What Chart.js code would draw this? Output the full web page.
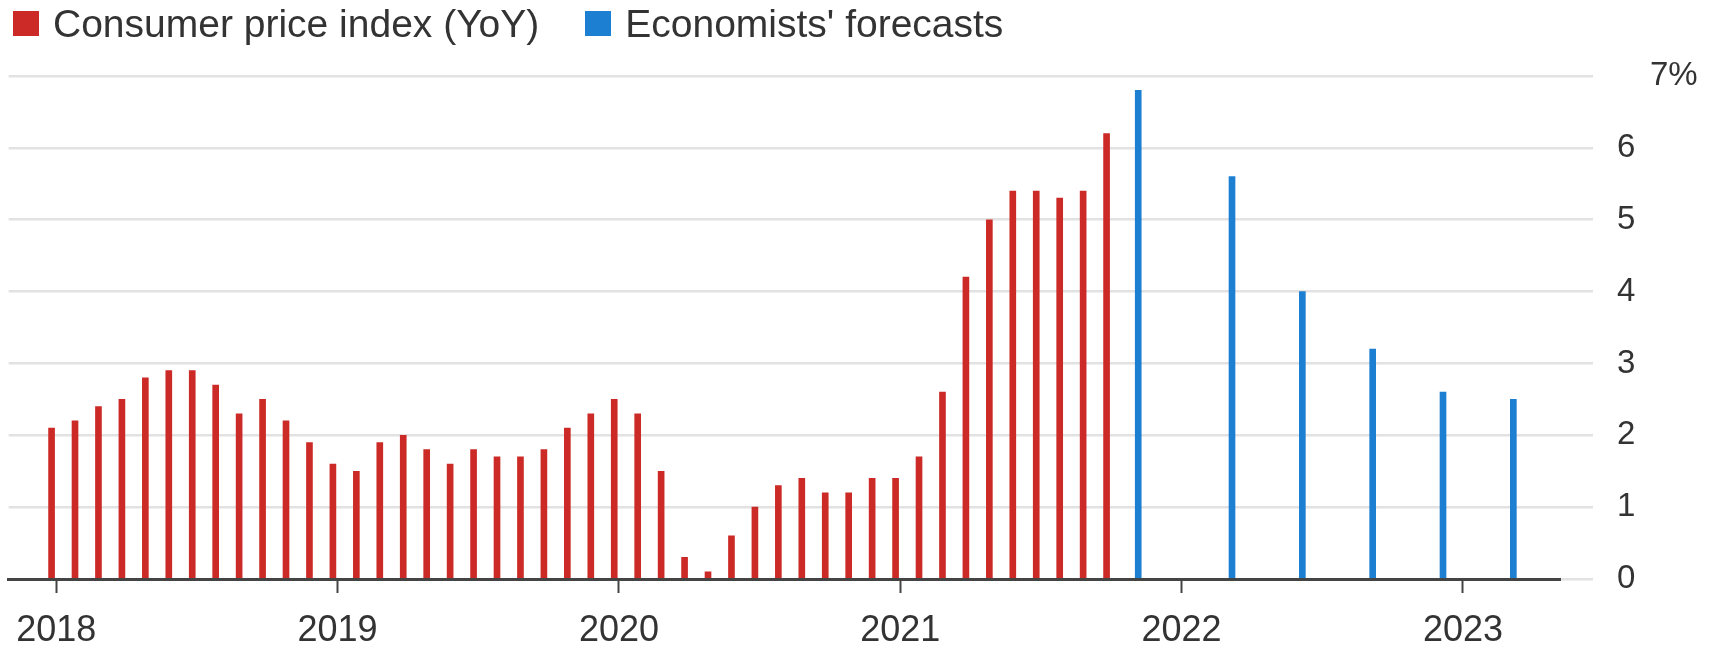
<!DOCTYPE html>
<html>
<head>
<meta charset="utf-8">
<script src="https://cdn.jsdelivr.net/npm/chart.js@4.4.1/dist/chart.umd.min.js"></script>
<style>
  html, body { margin: 0; padding: 0; background: #fff; }
  #wrap { position: relative; width: 1729px; height: 649px; }
  #legend { position: absolute; left: 13px; top: 4px; display: flex; font-family: "Liberation Sans", Arial, sans-serif; font-size: 39px; line-height: 39px; color: #333; }
  #legend .item { display: flex; align-items: center; margin-right: 46px; }
  #legend .box { width: 26px; height: 25px; margin-right: 14px; }
</style>
</head>
<body>
<div id="wrap">
  <canvas id="myChart" width="1729" height="649"></canvas>
  <div id="legend"></div>
</div>
<script>
// monthly CPI, Jan 2018 .. Oct 2021 (x = months since Jan 2018)
var cpiValues = [
  2.1, 2.2, 2.4, 2.5, 2.8, 2.9, 2.9, 2.7, 2.3, 2.5, 2.2, 1.9,
  1.6, 1.5, 1.9, 2.0, 1.8, 1.6, 1.8, 1.7, 1.7, 1.8, 2.1, 2.3,
  2.5, 2.3, 1.5, 0.3, 0.1, 0.6, 1.0, 1.3, 1.4, 1.2, 1.2, 1.4,
  1.4, 1.7, 2.6, 4.2, 5.0, 5.4, 5.4, 5.3, 5.4, 6.2
];
// economists' quarterly forecasts
var forecastMonths = [46.35, 50.35, 53.35, 56.35, 59.35, 62.35];
var forecastValues = [6.8, 5.6, 4.0, 3.2, 2.6, 2.5];

var yearLabels = ['2018', '2019', '2020', '2021', '2022', '2023'];
var yTicks = [0, 1, 2, 3, 4, 5, 6, 7];

var red = '#cc2a27';
var blue = '#1c7fd1';
var font = '"Liberation Sans", Arial, sans-serif';

var cpiData = cpiValues.map(function (v, i) { return { x: i, y: v }; });
var fcData = forecastValues.map(function (v, i) { return { x: forecastMonths[i], y: v }; });

var ctx = document.getElementById('myChart').getContext('2d');
var chart = new Chart(ctx, {
  type: 'bar',
  data: {
    datasets: [{
      label: 'Consumer price index (YoY)',
      data: cpiData,
      backgroundColor: red,
      barThickness: 6,
      grouped: false
    }, {
      label: "Economists' forecasts",
      data: fcData,
      backgroundColor: blue,
      barThickness: 6,
      grouped: false
    }]
  },
  options: {
    responsive: false,
    animation: false,
    devicePixelRatio: 1,
    layout: { padding: { top: 76, left: 7, right: 0, bottom: 0 } },
    plugins: {
      legend: { display: false },
      tooltip: { enabled: false }
    },
    scales: {
      x: {
        type: 'linear',
        offset: false,
        min: -1.83,
        max: 64.34,
        afterBuildTicks: function (s) {
          s.ticks = yearLabels.map(function (y, i) { return { value: i * 12 + 0.2 }; });
        },
        afterFit: function (s) { s.height = 70; },
        ticks: {
          callback: function (v, i) { return yearLabels[i]; },
          color: '#333',
          font: { family: font, size: 36 },
          padding: 16,
          maxRotation: 0,
          autoSkip: false
        },
        grid: {
          offset: false,
          drawOnChartArea: false,
          drawTicks: true,
          tickLength: 14,
          tickColor: '#444',
          tickWidth: 2
        },
        border: { display: true, color: '#444', width: 3, z: 1 }
      },
      y: {
        position: 'right',
        min: 0,
        max: 7,
        afterBuildTicks: function (s) {
          s.ticks = yTicks.map(function (v) { return { value: v }; });
        },
        afterFit: function (s) { s.width = 169; },
        ticks: {
          callback: function (v) { return v === 7 ? '\u2002\u20027%' : v; },
          color: '#333',
          font: { family: font, size: 33 },
          padding: 24,
          crossAlign: 'near'
        },
        grid: {
          color: '#e2e2e2',
          lineWidth: 2.5,
          tickLength: 33,
          tickColor: '#e2e2e2'
        },
        border: { display: false }
      }
    }
  }
});

// legend drawn from the chart's datasets
var legend = document.getElementById('legend');
chart.data.datasets.forEach(function (ds) {
  var item = document.createElement('div');
  item.className = 'item';
  var box = document.createElement('span');
  box.className = 'box';
  box.style.background = ds.backgroundColor;
  var txt = document.createElement('span');
  txt.textContent = ds.label;
  item.appendChild(box);
  item.appendChild(txt);
  legend.appendChild(item);
});
</script>
</body>
</html>
